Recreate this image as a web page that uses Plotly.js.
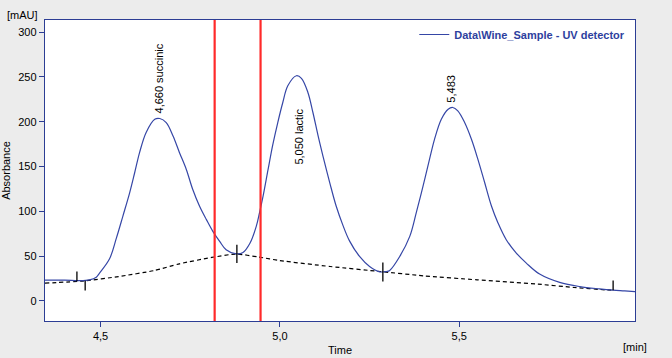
<!DOCTYPE html>
<html>
<head>
<meta charset="utf-8">
<script src="https://cdn.plot.ly/plotly-3.0.1.min.js"></script>
<style>html,body{margin:0;padding:0;background:#ececec;}#chart{width:672px;height:358px;}</style>
</head>
<body>
<div id="chart"></div>
<script>
// Chromatogram signal (time in min, absorbance in mAU)
const signalTime = [4.345,4.40,4.441,4.469,4.488,4.497,4.525,4.544,4.562,4.581,4.595,4.609,4.627,4.651,4.665,4.683,4.702,4.720,4.739,4.757,4.776,4.795,4.813,4.832,4.850,4.878,4.897,4.916,4.934,4.943,4.953,4.967,4.980,4.994,5.008,5.022,5.046,5.060,5.078,5.092,5.106,5.120,5.139,5.157,5.176,5.194,5.222,5.250,5.278,5.297,5.306,5.334,5.362,5.380,5.399,5.417,5.431,5.450,5.469,5.482,5.496,5.515,5.534,5.552,5.571,5.590,5.608,5.631,5.659,5.687,5.724,5.780,5.836,5.891,5.929,5.961,5.990];
const signalValue = [23.2,23.2,22.6,23.5,26.5,31,47,70,94.4,120.6,143,166,188,202.7,203.5,199,184,165.4,146.7,124.3,105.6,90.7,77.6,66.4,57.1,52.5,54,64,83.2,98.2,116.8,146.7,174,199,221.4,240,251.2,248.3,232.6,210.2,185,161.6,131.8,105.6,84,67,49.6,38.4,32.5,32.8,34,49.6,72,98.2,128,157.9,180.3,202.7,213.9,215.8,212,199,180.3,157.9,131.8,105.6,87,68.3,53.4,42.2,30,20.7,16,13.4,12,11.2,10.4];

// Integration baseline
const baselineTime = [4.345,4.455,4.55,4.65,4.72,4.81,4.878,4.94,5.00,5.14,5.28,5.40,5.55,5.72,5.82,5.91,5.929];
const baselineValue = [19.8,22.4,27.2,33.9,41.4,48.5,52.3,49,45,38.4,32.8,28,23.5,18.7,15,12.3,12];

// Integration markers (peak start/end)
const markTime = [4.434,4.457,4.880,5.287,5.929];
const markLow = [22.2,11.5,42.2,21.6,12];
const markHigh = [32.8,22.4,62.7,42.9,22.7];

// Peaks and labels
const peakTime = [4.660,5.050,5.483];
const peakValue = [203.5,251.2,215.8];
const peakLabel = ['4,660 succinic','5,050 lactic','5,483'];

// Cursor lines
const cursorTime = [4.818,4.946];

// Axis ticks
const xTickVals = [4.5,5.0,5.5];
const xTickText = ['4,5','5,0','5,5'];
const yTickVals = [0,50,100,150,200,250,300];

const seriesName = 'Data\\Wine_Sample - UV detector';

const mx = [], my = [];
markTime.forEach((t,i)=>{ mx.push(t,t,null); my.push(markLow[i],markHigh[i],null); });

const traces = [
  {x: baselineTime, y: baselineValue, mode:'lines', line:{color:'#000000', width:1.2, dash:'4px,3px', shape:'spline', smoothing:0.6}, showlegend:false, hoverinfo:'skip'},
  {x: signalTime, y: signalValue, mode:'lines', name: seriesName, line:{color:'#3546a6', width:1.2, shape:'spline', smoothing:1}},
  {x: mx, y: my, mode:'lines', line:{color:'#000000', width:1.3}, showlegend:false, hoverinfo:'skip', connectgaps:false}
];

const labelShift = [40, -61, 19];
const labelXShift = [1, 1, -2];
const annotations = peakLabel.map((txt,i)=>({
  x: peakTime[i], y: peakValue[i], xref:'x', yref:'y', text: txt, showarrow:false,
  textangle:-90, xanchor:'center', yanchor:'middle', yshift: labelShift[i], xshift: labelXShift[i],
  font:{family:'Liberation Sans, Arial, sans-serif', size:11, color:'#000000'}
}));
annotations.push({x:0, y:1, xref:'paper', yref:'paper', text:'[mAU]', showarrow:false, xanchor:'right', yanchor:'bottom', xshift:-5, yshift:-3,
  font:{family:'Liberation Sans, Arial, sans-serif', size:11, color:'#000000'}});
annotations.push({x:1, y:0, xref:'paper', yref:'paper', text:'[min]', showarrow:false, xanchor:'center', yanchor:'top', xshift:0, yshift:-18,
  font:{family:'Liberation Sans, Arial, sans-serif', size:11, color:'#000000'}});

const shapes = cursorTime.map(t=>({type:'line', xref:'x', yref:'paper', x0:t, x1:t, y0:0, y1:1, line:{color:'#ff2a2a', width:2.2}}));

const axisColor = '#2c3d94';
const layout = {
  width:672, height:358,
  margin:{l:45, r:37, t:20, b:37},
  paper_bgcolor:'#ececec', plot_bgcolor:'#ffffff',
  font:{family:'Liberation Sans, Arial, sans-serif', size:11, color:'#000000'},
  xaxis:{range:[4.345,5.990], tickvals:xTickVals, ticktext:xTickText, ticks:'outside', ticklen:5, tickcolor:axisColor,
    showline:true, linecolor:axisColor, linewidth:1.2, mirror:true, showgrid:false, zeroline:false,
    title:{text:'Time', standoff:4, font:{size:11}}},
  yaxis:{range:[-22.4,313.4], tickvals:yTickVals, ticks:'outside', ticklen:5, tickcolor:axisColor,
    showline:true, linecolor:axisColor, linewidth:1.2, mirror:true, showgrid:false, zeroline:false,
    title:{text:'Absorbance', standoff:8, font:{size:11}}},
  legend:{x:0.992, y:1, xanchor:'right', yanchor:'top', bgcolor:'rgba(0,0,0,0)', borderwidth:0,
    font:{family:'Liberation Sans, Arial, sans-serif', size:11, color:'#2e3f9e', weight:'bold'}, itemwidth:30},
  showlegend:true,
  annotations, shapes
};

Plotly.newPlot('chart', traces, layout, {staticPlot:true, displayModeBar:false});
</script>
</body>
</html>
